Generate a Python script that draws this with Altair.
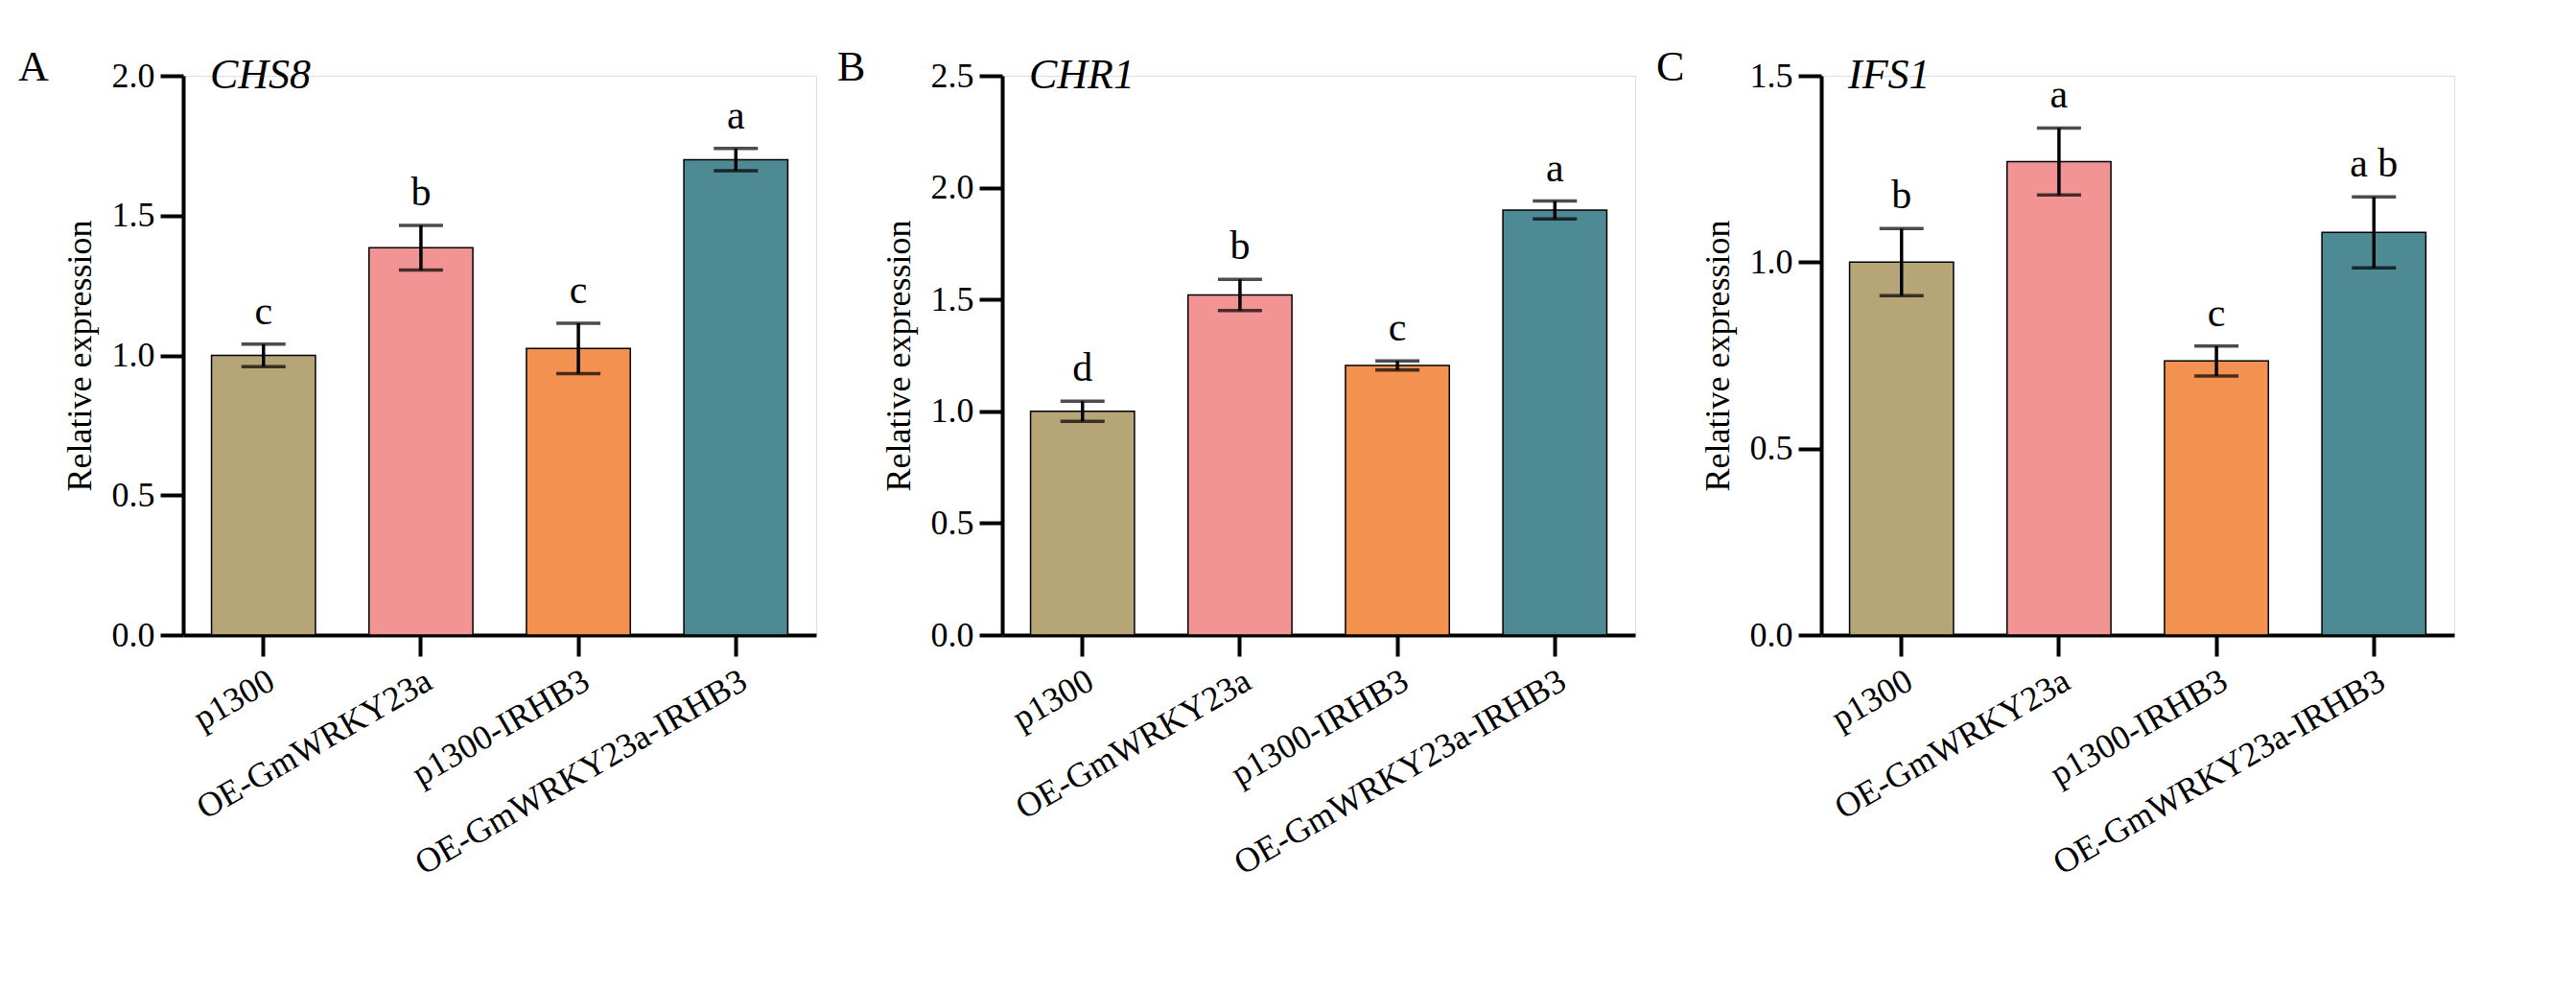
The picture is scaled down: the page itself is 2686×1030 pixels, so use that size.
import pandas as pd
import altair as alt

groups = ["p1300", "OE-GmWRKY23a", "p1300-IRHB3", "OE-GmWRKY23a-IRHB3"]
colors = ["#b5a577", "#f29494", "#f39150", "#4d8a94"]

chs8_mean = [1.00, 1.385, 1.025, 1.70]
chs8_err = [0.04, 0.08, 0.09, 0.04]
chs8_sig = ["c", "b", "c", "a"]

chr1_mean = [1.00, 1.52, 1.205, 1.90]
chr1_err = [0.045, 0.07, 0.02, 0.04]
chr1_sig = ["d", "b", "c", "a"]

ifs1_mean = [1.00, 1.27, 0.735, 1.08]
ifs1_err = [0.09, 0.09, 0.04, 0.095]
ifs1_sig = ["b", "a", "c", "a b"]

FONT = "Liberation Serif"
W, H = 660, 583


def panel(letter, gene, mean, err, sig, ymax, step):
    df = pd.DataFrame({"group": groups, "mean": mean, "err": err, "sig": sig})
    df["lo"] = df["mean"] - df["err"]
    df["hi"] = df["mean"] + df["err"]
    x = alt.X("group:N", sort=groups, title=None,
              scale=alt.Scale(paddingInner=0.34, paddingOuter=0.18),
              axis=alt.Axis(labelAngle=-30, labelFontSize=36, labelFont=FONT,
                            labelAlign="right", labelBaseline="top", labelLimit=0,
                            tickSize=22, tickWidth=4, domainWidth=4,
                            labelPadding=8, domainColor="black", tickColor="black",
                            labelColor="black"))
    y = alt.Y("mean:Q", title="Relative expression",
              scale=alt.Scale(domain=[0, ymax], nice=False),
              axis=alt.Axis(values=[round(i * step, 2) for i in range(int(round(ymax / step)) + 1)],
                            format=".1f", labelFontSize=36, labelFont=FONT,
                            titleFontSize=36, titleFont=FONT, titleFontWeight="normal",
                            tickSize=24, tickWidth=4, domainWidth=4, grid=False,
                            labelPadding=6, titlePadding=14, domainColor="black",
                            tickColor="black", labelColor="black", titleColor="black"))
    base = alt.Chart(df)
    bars = base.mark_bar(stroke="black", strokeWidth=1.5).encode(
        x=x, y=y,
        color=alt.Color("group:N", sort=groups,
                        scale=alt.Scale(domain=groups, range=colors), legend=None))
    rule = base.mark_rule(color="black", strokeWidth=3.5).encode(
        x=alt.X("group:N", sort=groups), y="lo:Q", y2="hi:Q")
    cap_lo = base.mark_tick(color="black", thickness=3.5, size=46, orient="horizontal").encode(
        x=alt.X("group:N", sort=groups), y="lo:Q")
    cap_hi = base.mark_tick(color="black", thickness=3.5, size=46, orient="horizontal").encode(
        x=alt.X("group:N", sort=groups), y="hi:Q")
    letters = base.mark_text(font=FONT, fontSize=42, dy=-12, baseline="bottom",
                             color="black").encode(
        x=alt.X("group:N", sort=groups), y="hi:Q", text="sig:N")
    gene_t = alt.Chart(pd.DataFrame({"t": [gene]})).mark_text(
        font=FONT, fontSize=44, fontStyle="italic", align="left", baseline="middle",
        color="black").encode(x=alt.value(28), y=alt.value(0), text="t:N")
    letter_t = alt.Chart(pd.DataFrame({"t": [letter]})).mark_text(
        font=FONT, fontSize=44, align="left", baseline="middle",
        color="black").encode(x=alt.value(-172), y=alt.value(-8), text="t:N")
    return (bars + rule + cap_lo + cap_hi + letters + gene_t + letter_t).properties(
        width=W, height=H)


chart = alt.hconcat(
    panel("A", "CHS8", chs8_mean, chs8_err, chs8_sig, 2.0, 0.5),
    panel("B", "CHR1", chr1_mean, chr1_err, chr1_sig, 2.5, 0.5),
    panel("C", "IFS1", ifs1_mean, ifs1_err, ifs1_sig, 1.5, 0.5),
    spacing=20,
).configure_view(strokeWidth=0, stroke="white").configure(background="white").properties(
    padding={"left": 10, "top": 40, "right": 10, "bottom": 10})

chart.save("out.html", embed_options={"renderer": "svg", "actions": False})
